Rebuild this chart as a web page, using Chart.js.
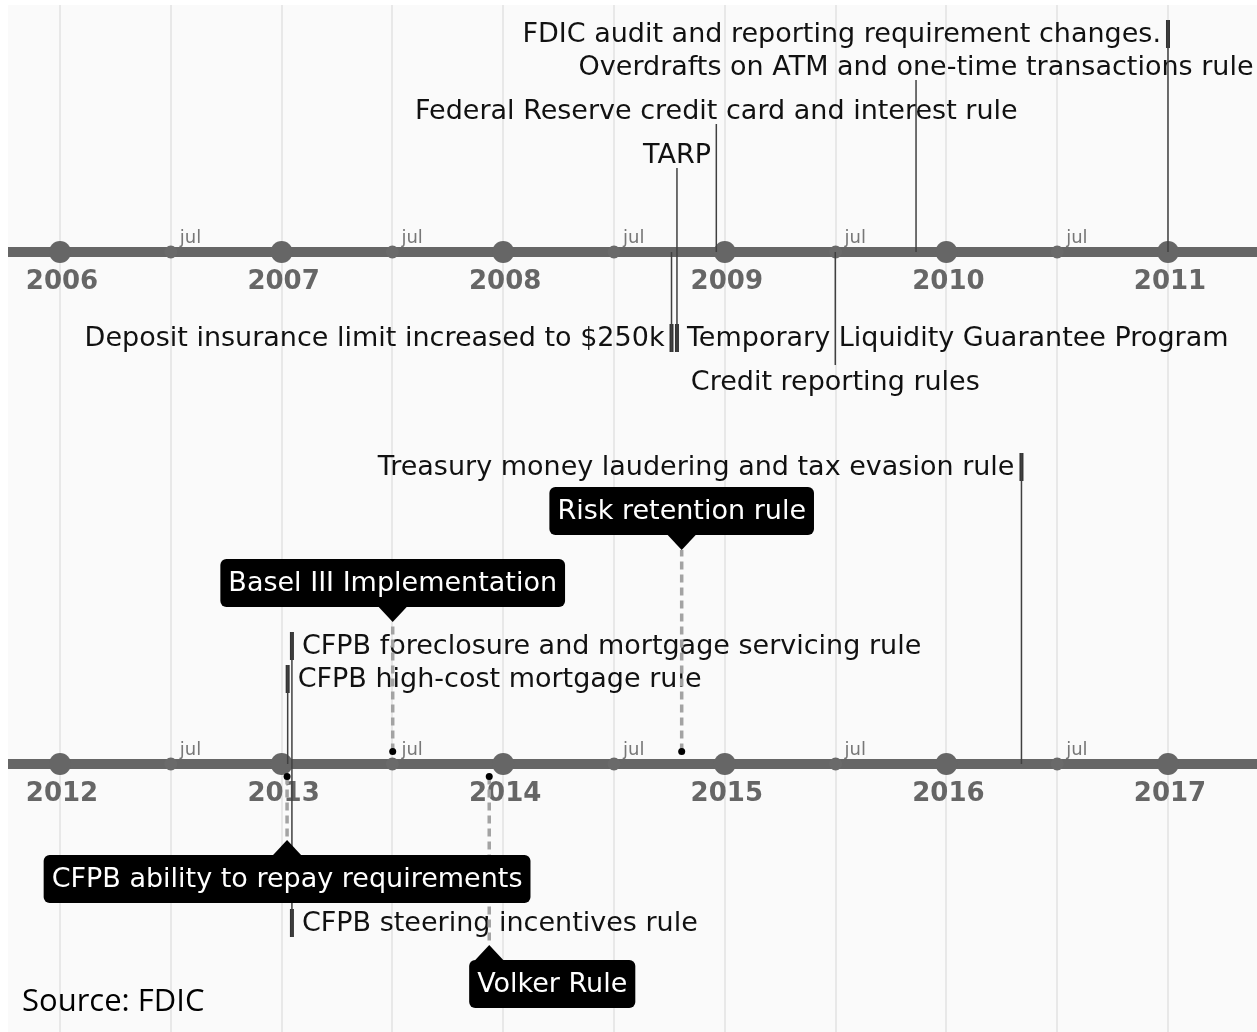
<!DOCTYPE html>
<html>
<head>
<meta charset="utf-8">
<script src="https://cdn.jsdelivr.net/npm/chart.js@4.4.1/dist/chart.umd.min.js"></script>
<style>
    html, body { margin: 0; padding: 0; background: #fff; }
    #wrap { position: relative; width: 1257px; height: 1032px; overflow: hidden; }
    canvas { position: absolute; left: 0; }
    #topChart { top: 0; }
    #bottomChart { top: 410px; }
</style>
</head>
<body>
<div id="wrap">
    <canvas id="topChart" width="1257" height="410" style="width:1257px;height:410px"></canvas>
    <canvas id="bottomChart" width="1257" height="622" style="width:1257px;height:622px"></canvas>
</div>
<script>
// --- data ---
const topYears = [2006, 2007, 2008, 2009, 2010, 2011];
const topLabels = [
    "FDIC audit and reporting requirement changes.",
    "Overdrafts on ATM and one-time transactions rule",
    "Federal Reserve credit card and interest rule",
    "TARP",
    "Deposit insurance limit increased to $250k",
    "Temporary Liquidity Guarantee Program",
    "Credit reporting rules"
];
const topDates = ["2011-01-01", "2009-11-12", "2008-12-18", "2008-10-14", "2008-10-05", "2008-10-14", "2009-07-02"];
const topLevels = [2.32, 1.72, 1.28, 0.84, -1.0, -1.0, -1.13];
const topKinds = ["left", "center", "center", "center", "left", "right", "center"];

const bottomYears = [2012, 2013, 2014, 2015, 2016, 2017];
const bottomLabels = [
    "Treasury money laudering and tax evasion rule",
    "Risk retention rule",
    "Basel III Implementation",
    "CFPB foreclosure and mortgage servicing rule",
    "CFPB high-cost mortgage rule",
    "CFPB ability to repay requirements",
    "CFPB steering incentives rule",
    "Volker Rule"
];
const bottomDates = ["2016-05-04", "2014-10-22", "2013-07-03", "2013-01-18", "2013-01-11", "2013-01-10", "2013-01-18", "2013-12-09"];
const bottomLevels = [3.11, 2.14, 1.42, 1.32, 0.99, -0.76, -1.73, -1.81];
const bottomKinds = ["left", "box", "box", "right", "right", "box", "right", "box"];

const halfYearLabel = "jul";
const sourceText = "Source: FDIC";

// --- layout / style ---
const FONT = '"DejaVu Sans", sans-serif';
const AXIS_GREY = "#666";
const boxShift = { "Volker Rule": 63 };

function decYear(s) {
    const [y, m, d] = s.split("-").map(Number);
    const a = Date.UTC(y, 0, 1), b = Date.UTC(y + 1, 0, 1);
    return y + (Date.UTC(y, m - 1, d) - a) / (b - a);
}

function makePlugin(panel) {
    return {
        id: "timeline",
        beforeDraw(chart) {
            const { ctx, chartArea: a } = chart;
            ctx.save();
            ctx.fillStyle = "#fafafa";
            ctx.fillRect(a.left, a.top, a.right - a.left, a.bottom - a.top);
            ctx.restore();
        },
        beforeDatasetsDraw(chart) {
            const ctx = chart.ctx, xs = chart.scales.x, ys = chart.scales.y;
            const axisY = ys.getPixelForValue(0);
            ctx.save();
            ctx.textBaseline = "middle";
            // year + jul labels
            panel.years.forEach(y => {
                ctx.font = "bold 26px " + FONT;
                ctx.fillStyle = AXIS_GREY;
                ctx.textAlign = "center";
                ctx.fillText(String(y), xs.getPixelForValue(y) + 2, axisY + 30);
                ctx.font = "18px " + FONT;
                ctx.fillStyle = "#777";
                ctx.textAlign = "left";
                ctx.fillText(halfYearLabel, xs.getPixelForValue(y + 0.5) + 9, axisY - 14);
            });
            // plain event labels
            ctx.font = "27px " + FONT;
            ctx.fillStyle = "#111";
            panel.labels.forEach((lab, i) => {
                const kind = panel.kinds[i];
                if (kind === "box") return;
                const px = xs.getPixelForValue(decYear(panel.dates[i]));
                const py = ys.getPixelForValue(panel.levels[i]);
                const up = panel.levels[i] > 0;
                if (kind === "left") {
                    ctx.textAlign = "right";
                    ctx.fillText(lab, px - 7, up ? py + 15 : py - 13);
                } else if (kind === "right") {
                    ctx.textAlign = "left";
                    ctx.fillText(lab, px + 10, up ? py + 15 : py - 13);
                } else {
                    ctx.textAlign = "center";
                    ctx.fillText(lab, px, up ? py - 12 : py + 18);
                }
            });
            if (panel.source) {
                ctx.font = '31px "Open Sans", sans-serif';
                ctx.fillStyle = "#000";
                ctx.textAlign = "left";
                ctx.fillText(panel.source, 22, ys.getPixelForValue(0) + 238);
            }
            ctx.restore();
        },
        afterDatasetsDraw(chart) {
            const ctx = chart.ctx, xs = chart.scales.x, ys = chart.scales.y;
            ctx.save();
            ctx.font = "27px " + FONT;
            ctx.textAlign = "center";
            ctx.textBaseline = "middle";
            panel.labels.forEach((lab, i) => {
                if (panel.kinds[i] !== "box") return;
                const px = xs.getPixelForValue(decYear(panel.dates[i]));
                const py = ys.getPixelForValue(panel.levels[i]);
                const up = panel.levels[i] > 0;
                const w = ctx.measureText(lab).width + 16, h = 48;
                const cx = px + (boxShift[lab] || 0);
                const edge = up ? py - 15 : py + 15;
                const top = up ? edge - h : edge;
                ctx.fillStyle = "#000";
                ctx.beginPath();
                ctx.roundRect(cx - w / 2, top, w, h, 6);
                ctx.fill();
                ctx.beginPath();
                ctx.moveTo(px - 14, edge);
                ctx.lineTo(px + 14, edge);
                ctx.lineTo(px, py);
                ctx.closePath();
                ctx.fill();
                ctx.fillStyle = "#fff";
                ctx.fillText(lab, cx, top + h / 2 + 1);
            });
            ctx.restore();
        }
    };
}

function buildDatasets(panel) {
    const ds = [];
    // axis line
    ds.push({
        data: [{ x: panel.min, y: 0 }, { x: panel.max, y: 0 }],
        borderColor: AXIS_GREY, borderWidth: 10, pointRadius: 0, order: 5
    });
    // year + half-year dots
    ds.push({
        data: panel.years.map(y => ({ x: y, y: 0 })),
        showLine: false, pointRadius: 11, pointBackgroundColor: AXIS_GREY, pointBorderWidth: 0, order: 4
    });
    ds.push({
        data: panel.years.map(y => ({ x: y + 0.5, y: 0 })),
        showLine: false, pointRadius: 6.5, pointBackgroundColor: "#6a6a6a", pointBorderWidth: 0, order: 4
    });
    panel.labels.forEach((lab, i) => {
        const x = decYear(panel.dates[i]);
        const lv = panel.levels[i];
        const sign = lv > 0 ? 1 : -1;
        if (panel.kinds[i] === "box") {
            ds.push({
                data: [{ x, y: sign * 0.125 }, { x, y: lv }],
                borderColor: "#a3a3a3", borderWidth: 3.5, borderDash: [8, 5],
                pointRadius: [3.5, 0], pointBackgroundColor: "#000", pointBorderWidth: 0, order: 1
            });
        } else {
            ds.push({
                data: [{ x, y: 0 }, { x, y: lv }],
                borderColor: "#404040", borderWidth: 1.5, pointRadius: 0, order: 2
            });
            if (panel.kinds[i] !== "center") {
                ds.push({
                    data: [{ x, y: lv }, { x, y: lv - sign * 0.28 }],
                    borderColor: "#333", borderWidth: 4, pointRadius: 0, order: 2
                });
            }
        }
    });
    return ds;
}

function makeTimeline(id, panel) {
    const grid = panel.years.flatMap(y => [y, y + 0.5]);
    new Chart(document.getElementById(id), {
        type: "line",
        data: { datasets: buildDatasets(panel) },
        options: {
            responsive: false,
            animation: false,
            layout: { autoPadding: false, padding: { left: 8, top: panel.padTop, right: 0, bottom: 0 } },
            plugins: { legend: { display: false }, tooltip: { enabled: false } },
            scales: {
                x: {
                    type: "linear", min: panel.min, max: panel.max,
                    ticks: { display: false },
                    grid: { color: "#e8e8e8", lineWidth: 2, drawTicks: false },
                    border: { display: false },
                    afterBuildTicks: s => { s.ticks = grid.map(v => ({ value: v })); },
                    afterFit: s => { s.height = 0; }
                },
                y: { type: "linear", display: false, min: panel.yMin, max: panel.yMax }
            }
        },
        plugins: [makePlugin(panel)]
    });
}

makeTimeline("topChart", {
    years: topYears, labels: topLabels, dates: topDates, levels: topLevels, kinds: topKinds,
    min: 2005.7653, max: 2011.4017, yMin: -1.58, yMax: 2.47, padTop: 5
});
makeTimeline("bottomChart", {
    years: bottomYears, labels: bottomLabels, dates: bottomDates, levels: bottomLevels, kinds: bottomKinds,
    min: 2011.7653, max: 2017.4017, yMin: -2.68, yMax: 3.54, padTop: 0, source: sourceText
});
</script>
</body>
</html>
